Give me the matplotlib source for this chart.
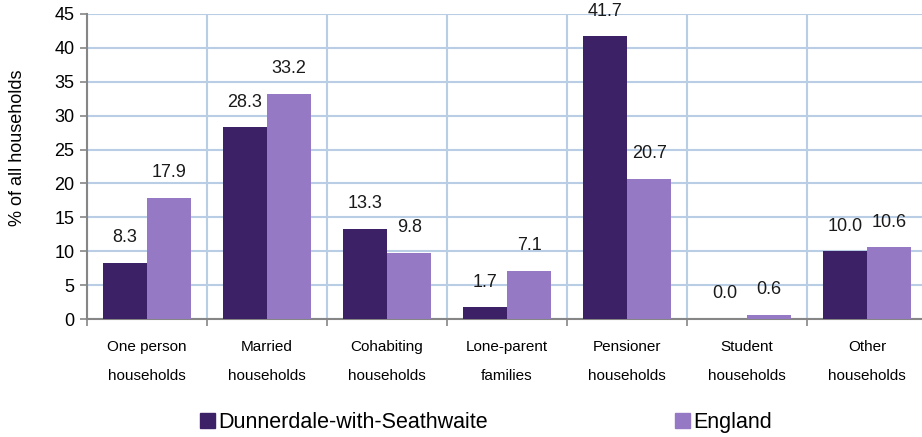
import numpy as np
import matplotlib.pyplot as plt
from matplotlib.patches import Patch

plt.rcParams['font.family'] = ['Liberation Sans', 'DejaVu Sans']

categories = ['One person\nhouseholds', 'Married\nhouseholds', 'Cohabiting\nhouseholds',
              'Lone-parent\nfamilies', 'Pensioner\nhouseholds', 'Student\nhouseholds',
              'Other\nhouseholds']
dunnerdale = [8.3, 28.3, 13.3, 1.7, 41.7, 0.0, 10.0]
england = [17.9, 33.2, 9.8, 7.1, 20.7, 0.6, 10.6]
series_names = ['Dunnerdale-with-Seathwaite', 'England']

dark = '#3d2167'
light = '#9579c5'
grid_col = '#b9cde5'
axis_col = '#868686'

fig = plt.figure(figsize=(9.22, 4.37), dpi=100)
# plot area runs slightly past the right edge, as in the original
ax = fig.add_axes([87 / 922, 118 / 437, 840 / 922, 305 / 437])

x = np.arange(len(categories))
w = 0.37
b1 = ax.bar(x - w / 2, dunnerdale, w, color=dark, zorder=3)
b2 = ax.bar(x + w / 2, england, w, color=light, zorder=3)

for bars, vals in [(b1, dunnerdale), (b2, england)]:
    for rect, v in zip(bars, vals):
        ax.annotate('%.1f' % v, (rect.get_x() + rect.get_width() / 2, v),
                    xytext=(0, 18), textcoords='offset points',
                    ha='center', va='center', fontsize=13, color='#1a1a1a')

ax.set_xlim(-0.5, len(categories) - 0.5)
ax.set_ylim(0, 45)
ax.set_yticks(range(0, 46, 5))
ax.tick_params(axis='y', labelsize=13, length=5, width=1.2, color=axis_col, pad=4)

ax.set_xticks(x)
ax.set_xticklabels(categories, fontsize=11, linespacing=2.35)
ax.set_xticks(np.arange(-0.5, len(categories)), minor=True)
ax.tick_params(axis='x', which='major', length=0, pad=15)
ax.tick_params(axis='x', which='minor', length=5, width=1.2, color=axis_col)

ax.grid(axis='y', color=grid_col, linewidth=1.5, zorder=0)
ax.grid(axis='x', which='minor', color=grid_col, linewidth=1.5, zorder=0)
ax.set_axisbelow(True)

for s in ['top', 'right']:
    ax.spines[s].set_visible(False)
for s in ['left', 'bottom']:
    ax.spines[s].set_color(axis_col)
    ax.spines[s].set_linewidth(1.5)

ax.set_ylabel('% of all households', fontsize=13)
ax.yaxis.set_label_coords(-61 / 840, 0.56)

handles = [Patch(color=dark, label=series_names[0]), Patch(color=light, label=series_names[1])]
fig.legend(handles=handles, loc='center left', bbox_to_anchor=(191 / 922, 1 - 422.5 / 437),
           ncol=2, frameon=False, fontsize=15.5, handlelength=0.7, handleheight=0.7,
           handletextpad=0.15, columnspacing=8.7, borderaxespad=0)

fig.savefig('out.png', dpi=100)
